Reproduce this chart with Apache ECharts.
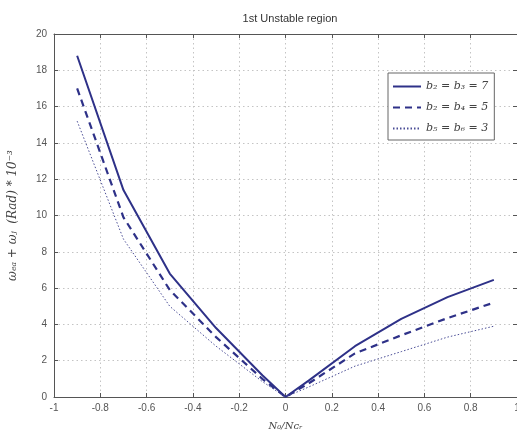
<!DOCTYPE html>
<html><head><meta charset="utf-8">
<script src="https://cdn.jsdelivr.net/npm/echarts@6/dist/echarts.min.js"></script>
<style>html,body{margin:0;padding:0;background:#fff}#c{width:517px;height:436px}</style>
</head><body><div id="c"></div>
<script>
const xValues = [-0.9, -0.7, -0.5, -0.3, -0.1, 0, 0.1, 0.3, 0.5, 0.7, 0.9];
const seriesB7 = [18.8, 11.4, 6.8, 3.8, 1.2, 0, 0.9, 2.8, 4.3, 5.5, 6.45];
const seriesB5 = [17.0, 9.9, 5.9, 3.3, 1.0, 0, 0.75, 2.4, 3.4, 4.35, 5.2];
const seriesB3 = [15.2, 8.7, 5.0, 2.8, 0.85, 0, 0.55, 1.7, 2.5, 3.3, 3.9];
const seriesNames = ['b\u2082 = b\u2083 = 7', 'b\u2082 = b\u2084 = 5', 'b\u2085 = b\u2086 = 3'];
const titleText = '1st Unstable region';
const xName = 'N\u2080/N\u1d04\u1d63';
const yName = '\u03c9\u2091\u2090 + \u03c9\u2c7c  (Rad) * 10\u207b\u00b3';

const pair = arr => xValues.map((x, i) => [x, arr[i]]);
const lineColor = '#2e3188';
const font = '"Liberation Sans", Arial, sans-serif';
const serif = '"DejaVu Serif", "Liberation Serif", serif';
const gridLine = {show: true, lineStyle: {color: '#c4c4c4', type: [1.5, 3], width: 1}};
const axisLine = {show: true, onZero: false, lineStyle: {color: '#555', width: 1}};
const tick = {show: true, inside: true, length: 4, lineStyle: {color: '#555'}};

const chart = echarts.init(document.getElementById('c'), null, {renderer: 'canvas'});
chart.setOption({
  animation: false,
  backgroundColor: '#fff',
  title: {text: titleText, left: 285, top: 8, textAlign: 'center',
    textStyle: {fontFamily: font, fontSize: 11, fontWeight: 'normal', color: '#333'}},
  grid: {left: 54, top: 34, width: 463, bottom: 39, containLabel: false, outerBoundsMode: 'none'},
  legend: {
    orient: 'vertical', left: 388, top: 73, itemWidth: 28, itemHeight: 10, itemGap: 10,
    backgroundColor: '#fff', borderColor: '#666', borderWidth: 1, padding: [8, 6, 6, 4],
    itemStyle: {opacity: 0},
    textStyle: {fontFamily: serif, fontSize: 11, color: '#444', fontStyle: 'italic'},
    data: seriesNames
  },
  xAxis: [{
    type: 'value', min: -1, max: 1, interval: 0.2,
    name: xName, nameLocation: 'middle', nameGap: 24,
    nameTextStyle: {fontFamily: serif, fontStyle: 'italic', fontSize: 10, color: '#444'},
    axisLine: axisLine, axisTick: tick, splitLine: gridLine,
    axisLabel: {fontFamily: font, fontSize: 10, color: '#555', margin: 6,
      formatter: v => String(Math.round(v * 10) / 10)}
  }, {
    type: 'value', min: -1, max: 1, interval: 0.2, position: 'top',
    axisLine: axisLine, axisTick: tick, axisLabel: {show: false}, splitLine: {show: false}
  }],
  yAxis: [{
    type: 'value', min: 0, max: 20, interval: 2,
    name: yName, nameLocation: 'middle', nameGap: 35,
    nameTextStyle: {fontFamily: serif, fontStyle: 'italic', fontSize: 12, color: '#444'},
    axisLine: axisLine, axisTick: tick, splitLine: gridLine,
    axisLabel: {fontFamily: font, fontSize: 10, color: '#555', margin: 7}
  }, {
    type: 'value', min: 0, max: 20, interval: 2, position: 'right',
    axisLine: axisLine, axisTick: tick, axisLabel: {show: false}, splitLine: {show: false}
  }],
  series: [
    {name: seriesNames[0], type: 'line', data: pair(seriesB7), symbol: 'none',
      lineStyle: {color: lineColor, width: 2, type: 'solid'}, itemStyle: {color: lineColor}},
    {name: seriesNames[1], type: 'line', data: pair(seriesB5), symbol: 'none',
      lineStyle: {color: lineColor, width: 2.2, type: [7, 5]}, itemStyle: {color: lineColor}},
    {name: seriesNames[2], type: 'line', data: pair(seriesB3), symbol: 'none',
      lineStyle: {color: '#4a4d96', width: 1, type: [1.5, 2]}, itemStyle: {color: '#4a4d96'}}
  ]
});
</script></body></html>
